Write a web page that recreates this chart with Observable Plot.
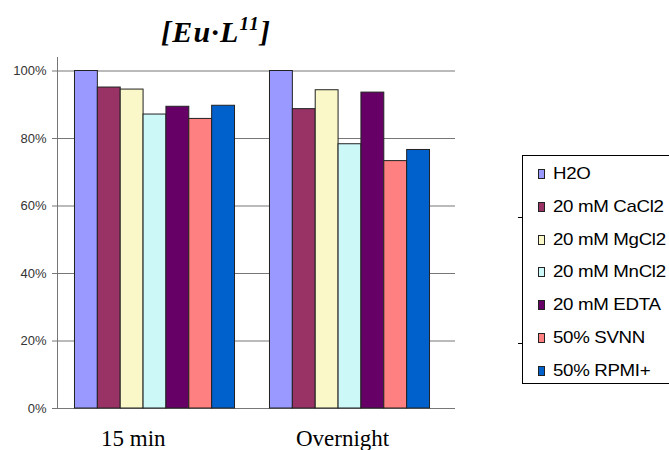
<!DOCTYPE html>
<html>
<head>
<meta charset="utf-8">
<script src="https://cdn.jsdelivr.net/npm/d3@7"></script>
<script src="https://cdn.jsdelivr.net/npm/@observablehq/plot@0.6"></script>
<style>
  html, body { margin: 0; padding: 0; background: #fff; overflow: hidden; }
  #wrap { position: relative; width: 669px; height: 450px; overflow: hidden; }
  #title { position: absolute; left: 161px; top: 15px; font-family: "Liberation Serif", "Times New Roman", serif;
           font-weight: bold; font-style: italic; font-size: 30px; letter-spacing: 1.2px; white-space: nowrap; color: #000; }
  #title sup { font-size: 19px; vertical-align: 0; position: relative; top: -12px; }
  #legend { position: absolute; left: 522px; top: 155px; width: 200px; height: 229px;
            border: 1px solid #000; box-sizing: border-box; font-family: "Liberation Sans", Arial, sans-serif;
            font-size: 17px; color: #000; }
  .item { position: absolute; left: 15px; height: 20px; line-height: 20px; white-space: nowrap; }
  .sw { display: inline-block; width: 5px; height: 8px; border: 1px solid #222; margin-right: 8px; vertical-align: 0px; }
  .txt { display: inline-block; transform: scaleX(1.1); transform-origin: left center; letter-spacing: -0.3px; }
  .ltick { position: absolute; left: 518px; width: 4px; height: 1px; background: #000; }
  svg { position: absolute; left: 0; top: 0; }
</style>
</head>
<body>
<div id="wrap"></div>
<script>
const times = ["15 min", "Overnight"];
const conditions = ["H2O", "20 mM CaCl2", "20 mM MgCl2", "20 mM MnCl2", "20 mM EDTA", "50% SVNN", "50% RPMI+"];
const colors = ["#9999FF", "#993366", "#FAF8C8", "#CCF8F8", "#660066", "#FF8080", "#0060CC"];
const values15 = [100, 95.1, 94.5, 87.1, 89.4, 85.8, 89.7];
const valuesOvernight = [100, 88.7, 94.3, 78.3, 93.6, 73.3, 76.6];
const yTicks = [0, 20, 40, 60, 80, 100];

const data = [];
conditions.forEach((c, i) => {
  data.push({time: times[0], cond: c, value: values15[i]});
  data.push({time: times[1], cond: c, value: valuesOvernight[i]});
});
const grid0 = yTicks.map(v => ({time: times[0], v}));
const grid1 = yTicks.map(v => ({time: times[1], v}));

const chart = Plot.plot({
  width: 669,
  height: 450,
  marginLeft: 57,
  marginRight: 214,
  marginTop: 57,
  marginBottom: 42,
  style: {fontFamily: "Liberation Sans, Arial, sans-serif", background: "transparent"},
  fx: {domain: times, paddingInner: 0, paddingOuter: 0.0205, align: 0, round: false, label: null},
  x: {domain: conditions, paddingInner: 0, paddingOuter: 0.765, round: false, axis: null},
  y: {domain: [0, 104], axis: null},
  color: {domain: conditions, range: colors},
  marks: [
    Plot.ruleY(grid0, {fx: "time", y: "v", stroke: "#777", strokeWidth: 1, insetLeft: -5}),
    Plot.ruleY(grid1, {fx: "time", y: "v", stroke: "#777", strokeWidth: 1, insetRight: -8}),
    Plot.frame({anchor: "left", facet: "super", stroke: "#777"}),
    Plot.axisY({ticks: yTicks, tickFormat: d => d + "%", tickSize: 0, tickPadding: 11, fontSize: 13, fill: "#333", label: null}),
    Plot.barY(data, {fx: "time", x: "cond", y: "value", fill: "cond", stroke: "#222", strokeWidth: 1}),
    Plot.axisFx({anchor: "bottom", tickSize: 0, fontSize: 23, fontFamily: "Liberation Serif, Times New Roman, serif", fill: "#000",
                 textAnchor: "start", dx: -54, dy: 12, label: null})
  ]
});

const wrap = document.getElementById("wrap");
wrap.appendChild(chart);

const title = document.createElement("div");
title.id = "title";
title.innerHTML = "[Eu·L<sup>11</sup>]";
wrap.appendChild(title);

const legend = document.createElement("div");
legend.id = "legend";
conditions.forEach((c, i) => {
  const it = document.createElement("div");
  it.className = "item";
  it.style.top = (8 + i * 32.8) + "px";
  const sw = document.createElement("span");
  sw.className = "sw";
  sw.style.background = colors[i];
  it.appendChild(sw);
  const tx = document.createElement("span");
  tx.className = "txt";
  tx.textContent = c;
  it.appendChild(tx);
  legend.appendChild(it);
});
wrap.appendChild(legend);
[217, 343].forEach(y => {
  const t = document.createElement("div");
  t.className = "ltick";
  t.style.top = y + "px";
  wrap.appendChild(t);
});
</script>
</body>
</html>
